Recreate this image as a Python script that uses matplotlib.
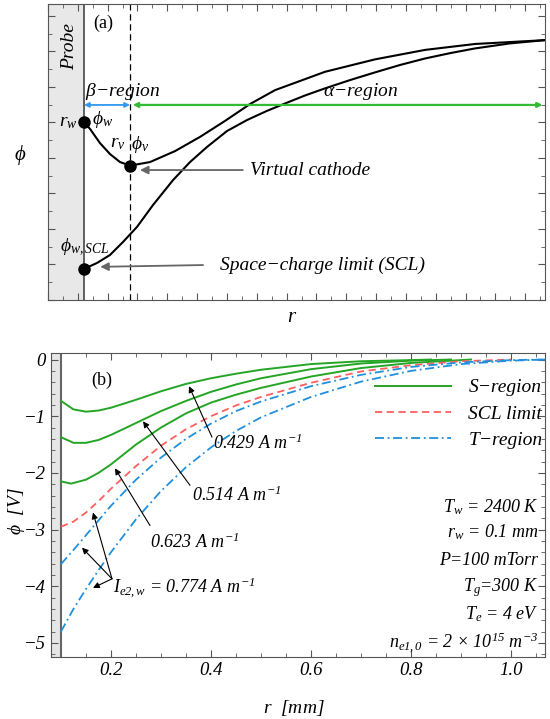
import matplotlib
matplotlib.use("Agg")
import matplotlib.pyplot as plt
from matplotlib.ticker import MultipleLocator

plt.rcParams['font.family'] = ['Liberation Serif', 'DejaVu Serif']
plt.rcParams['font.style'] = 'italic'
plt.rcParams['mathtext.fontset'] = 'custom'
plt.rcParams['mathtext.it'] = 'Liberation Serif:italic'
plt.rcParams['mathtext.rm'] = 'Liberation Serif:italic'

# ---- panel (a): schematic potential profiles (arbitrary units) ----
vc_x = [0.724, 0.845, 1.046, 1.247, 1.449, 1.650, 2.052, 2.555, 3.058, 3.561,
        4.064, 4.567, 5.573, 6.579, 7.586, 8.592, 10.0]
vc_y = [6.01, 5.78, 5.30, 4.93, 4.66, 4.54, 4.66, 5.03, 5.51, 6.05,
        6.62, 7.09, 7.71, 8.13, 8.45, 8.65, 8.78]
scl_x = [0.724, 0.986, 1.247, 1.509, 1.791, 2.113, 2.515, 2.857, 3.199, 3.602,
         4.004, 4.406, 4.769, 5.171, 5.573, 6.076, 6.579, 7.082, 7.586, 8.089,
         8.592, 9.296, 10.0]
scl_y = [1.05, 1.25, 1.52, 1.96, 2.47, 3.21, 4.05, 4.66, 5.17, 5.71,
         6.08, 6.39, 6.64, 6.91, 7.15, 7.43, 7.69, 7.94, 8.16, 8.34,
         8.50, 8.67, 8.78]
r_wall_a = 0.724
r_vc = 1.65
phi_w = 6.01
phi_vc = 4.54
phi_wscl = 1.05
region_y = 6.59

# ---- panel (b): computed potential profiles ----
g1_r = [0.1, 0.125, 0.15, 0.175, 0.2, 0.25, 0.3, 0.35, 0.4, 0.45, 0.5, 0.6, 0.7, 0.8, 0.84]
g1_phi = [-0.73, -0.88, -0.92, -0.90, -0.85, -0.71, -0.56, -0.43, -0.33, -0.25, -0.18, -0.08, -0.03, -0.01, 0.0]
g2_r = [0.1, 0.125, 0.15, 0.175, 0.2, 0.25, 0.3, 0.35, 0.4, 0.45, 0.5, 0.6, 0.7, 0.8, 0.88]
g2_phi = [-1.37, -1.47, -1.47, -1.42, -1.33, -1.12, -0.91, -0.73, -0.57, -0.44, -0.33, -0.17, -0.07, -0.02, 0.0]
g3_r = [0.1, 0.12, 0.15, 0.175, 0.2, 0.25, 0.3, 0.35, 0.4, 0.45, 0.5, 0.6, 0.7, 0.8, 0.92]
g3_phi = [-2.15, -2.19, -2.12, -2.0, -1.85, -1.50, -1.20, -0.95, -0.76, -0.62, -0.50, -0.30, -0.15, -0.06, 0.0]
red_r = [0.1, 0.125, 0.15, 0.175, 0.2, 0.25, 0.3, 0.35, 0.4, 0.45, 0.5, 0.6, 0.7, 0.8, 0.9, 1.0]
red_phi = [-2.95, -2.86, -2.70, -2.50, -2.28, -1.88, -1.52, -1.23, -1.00, -0.81, -0.66, -0.41, -0.21, -0.10, -0.03, 0.0]
blue_r = [0.1, 0.125, 0.15, 0.175, 0.2, 0.25, 0.3, 0.35, 0.4, 0.45, 0.5, 0.6, 0.7, 0.8, 0.9, 1.0, 1.068]
b1_phi = [-3.61, -3.36, -3.10, -2.84, -2.58, -2.12, -1.73, -1.40, -1.13, -0.91, -0.74, -0.47, -0.27, -0.13, -0.05, -0.01, 0.0]
b2_phi = [-4.80, -4.40, -4.05, -3.72, -3.40, -2.82, -2.32, -1.90, -1.55, -1.26, -1.02, -0.66, -0.39, -0.20, -0.08, -0.02, 0.0]
r_wall = 0.1

params = [r"$T_w$ = 2400 K", r"$r_w$ = 0.1 mm", "P=100 mTorr", r"$T_g$=300 K",
          r"$T_e$ = 4 eV", r"$n_{e1,0}$ = 2 $\times$ 10$^{15}$ $m^{-3}$"]
params_y = [-2.61, -3.05, -3.55, -4.03, -4.50, -5.00]

green = '#25a525'
red = '#ff5f5f'
blue = '#2090dd'
spine = '#555555'

fig = plt.figure(figsize=(5.5, 7.19), dpi=100)
ax1 = fig.add_axes([0.0873, 0.5828, 0.9037, 0.4116])
ax2 = fig.add_axes([0.0927, 0.0862, 0.8983, 0.4228])

# ---------- panel (a) ----------
ax1.axvspan(0, r_wall_a, color='#e8e8e8', lw=0)
ax1.axvline(r_wall_a, color=spine, lw=1.3)
ax1.axvline(r_vc, color='k', lw=0.9, ls=(0, (5, 3)))
ax1.plot(vc_x, vc_y, 'k', lw=1.5)
ax1.plot(scl_x, scl_y, 'k', lw=1.5)
ax1.plot([r_wall_a, r_vc, r_wall_a], [phi_w, phi_vc, phi_wscl], 'ko', ms=8)
ax1.annotate('', xy=(r_vc, region_y), xytext=(r_wall_a, region_y),
             arrowprops=dict(arrowstyle='<|-|>', color='#3399ee', lw=1.3,
                             mutation_scale=7, shrinkA=0, shrinkB=0))
ax1.annotate('', xy=(9.95, region_y), xytext=(r_vc, region_y),
             arrowprops=dict(arrowstyle='<|-|>', color='#33bb33', lw=1.6,
                             mutation_scale=7, shrinkA=2, shrinkB=0))
ax1.annotate('', xy=(1.85, 4.39), xytext=(3.92, 4.39),
             arrowprops=dict(arrowstyle='-|>', color='#666666', lw=1.3,
                             mutation_scale=12, shrinkA=0, shrinkB=0))
ax1.annotate('', xy=(1.05, 1.12), xytext=(3.12, 1.18),
             arrowprops=dict(arrowstyle='-|>', color='#666666', lw=1.3,
                             mutation_scale=12, shrinkA=0, shrinkB=0))
ax1.text(1.107, 9.36, "(a)", fontsize=13, style='normal', ha='center', va='center')
ax1.text(0.443, 8.55, "Probe", fontsize=14, rotation=90, ha='center', va='center')
ax1.text(1.51, 7.03, r"$\beta$−region", fontsize=14, ha='center', va='center')
ax1.text(6.30, 7.03, r"$\alpha$−region", fontsize=14, ha='center', va='center')
ax1.text(0.40, 6.01, r"$r_w$", fontsize=14, ha='center', va='center')
ax1.text(1.09, 6.11, r"$\phi_w$", fontsize=14, ha='center', va='center')
ax1.text(1.41, 5.30, r"$r_v$", fontsize=14, ha='center', va='center')
ax1.text(1.85, 5.24, r"$\phi_v$", fontsize=14, ha='center', va='center')
ax1.text(0.74, 1.76, r"$\phi_{w,SCL}$", fontsize=14, ha='center', va='center')
ax1.text(4.06, 4.39, "Virtual cathode", fontsize=14, ha='left', va='center')
ax1.text(3.46, 1.18, "Space−charge limit (SCL)", fontsize=14, ha='left', va='center')
ax1.set_xlim(0, 10)
ax1.set_ylim(0, 10)
ax1.xaxis.set_major_locator(MultipleLocator(0.6))
ax1.xaxis.set_minor_locator(MultipleLocator(0.3))
ax1.yaxis.set_major_locator(MultipleLocator(1.2))
ax1.yaxis.set_minor_locator(MultipleLocator(0.6))
ax1.tick_params(which='both', direction='in', top=True, right=True,
                labelbottom=False, labelleft=False, color=spine)
ax1.tick_params(which='major', length=5)
ax1.tick_params(which='minor', length=3)
for s in ax1.spines.values():
    s.set_color(spine)
fig.text(0.036, 0.784, r"$\phi$", fontsize=15, ha='center', va='center')
fig.text(0.531, 0.558, r"$r$", fontsize=15, ha='center', va='center')

# ---------- panel (b) ----------
ax2.axvspan(0.08, r_wall, color='#e6e6e6', lw=0)
ax2.axvline(r_wall, color='#666666', lw=1.5)
ax2.plot(g1_r, g1_phi, color=green, lw=1.4, label="S−region")
ax2.plot(g2_r, g2_phi, color=green, lw=1.4)
ax2.plot(g3_r, g3_phi, color=green, lw=1.4)
ax2.plot(red_r, red_phi, color=red, lw=1.3, ls=(0, (4, 2.5)), label="SCL limit")
ax2.plot(blue_r, b1_phi, color=blue, lw=1.3, ls=(0, (5, 2, 1, 2)), label="T−region")
ax2.plot(blue_r, b2_phi, color=blue, lw=1.3, ls=(0, (5, 2, 1, 2)))

arrow_kw = dict(arrowstyle='-|>', color='k', lw=0.8, mutation_scale=9,
                shrinkA=0, shrinkB=0)
ax2.annotate('', xy=(0.356, -0.47), xytext=(0.402, -1.37), arrowprops=arrow_kw)
ax2.text(0.404, -1.48, r"0.429 A $m^{-1}$", fontsize=13, ha='left', va='center')
ax2.annotate('', xy=(0.264, -1.09), xytext=(0.358, -2.22), arrowprops=arrow_kw)
ax2.text(0.362, -2.40, r"0.514 A $m^{-1}$", fontsize=13, ha='left', va='center')
ax2.annotate('', xy=(0.208, -1.92), xytext=(0.278, -2.93), arrowprops=arrow_kw)
ax2.text(0.278, -3.23, r"0.623 A $m^{-1}$", fontsize=13, ha='left', va='center')
for head in [(0.164, -2.70), (0.142, -3.32), (0.164, -4.03)]:
    ax2.annotate('', xy=head, xytext=(0.202, -3.87), arrowprops=arrow_kw)
ax2.text(0.204, -4.02, r"$I_{e2,w}$ = 0.774 A $m^{-1}$", fontsize=13, ha='left', va='center')
ax2.text(0.181, -0.36, "(b)", fontsize=13, style='normal', ha='center', va='center')

for txt, yy in zip(params, params_y):
    ax2.text(1.055, yy, txt, fontsize=13, ha='right', va='center')

ax2.legend(loc='upper left', bbox_to_anchor=(0.656, 0.915), frameon=False,
           fontsize=14, handlelength=3.9, handletextpad=0.9, labelspacing=0.45,
           borderpad=0, borderaxespad=0)

ax2.set_xlim(0.08, 1.068)
ax2.set_ylim(-5.25, 0.115)
ax2.xaxis.set_major_locator(MultipleLocator(0.2))
ax2.xaxis.set_minor_locator(MultipleLocator(0.05))
ax2.yaxis.set_major_locator(MultipleLocator(1))
ax2.yaxis.set_minor_locator(MultipleLocator(0.2))
ax2.set_xticks([0.2, 0.4, 0.6, 0.8, 1.0])
ax2.set_xticklabels(["0.2", "0.4", "0.6", "0.8", "1.0"])
ax2.tick_params(which='both', direction='in', top=True, right=True,
                labelsize=13.5, color=spine)
ax2.tick_params(which='major', length=5)
ax2.tick_params(which='minor', length=3)
for s in ax2.spines.values():
    s.set_color(spine)
fig.text(0.03, 0.289, r"$\phi$  [V]", fontsize=14, rotation=90, ha='center', va='center')
fig.text(0.535, 0.015, r"$r$  [mm]", fontsize=14, ha='center', va='center')

fig.savefig("out.png", dpi=100)
